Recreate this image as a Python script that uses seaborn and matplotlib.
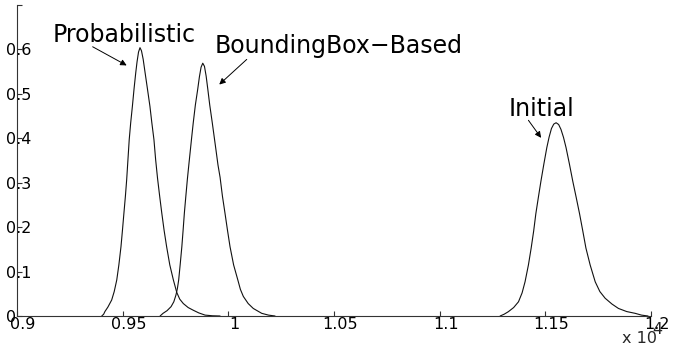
import matplotlib
matplotlib.use("Agg")
import matplotlib.pyplot as plt
import matplotlib.transforms as mtransforms
from matplotlib.ticker import FuncFormatter
import pandas as pd
import seaborn as sns


# curve points (x in raw units, shown as x 10^4)
prob_x = [9401, 9410, 9416, 9430, 9448, 9460, 9472, 9482, 9492, 9499, 9506,
          9513, 9519, 9525, 9531, 9538, 9546, 9554, 9562, 9568, 9575, 9582,
          9589, 9597, 9606, 9617, 9629, 9638, 9648, 9656, 9665, 9675, 9685,
          9696, 9708, 9723, 9740, 9756, 9770, 9787, 9810, 9834, 9860, 9890,
          9925, 9961]
prob_y = [0.0, 0.004, 0.010, 0.020, 0.036, 0.055, 0.081, 0.115, 0.156, 0.193,
          0.232, 0.270, 0.307, 0.352, 0.397, 0.435, 0.472, 0.512, 0.548,
          0.572, 0.594, 0.604, 0.597, 0.578, 0.548, 0.512, 0.472, 0.435,
          0.397, 0.352, 0.310, 0.270, 0.232, 0.193, 0.156, 0.115, 0.081,
          0.053, 0.038, 0.028, 0.019, 0.013, 0.007, 0.002, 0.0005, 0.0]

bbox_x = [9677, 9691, 9710, 9729, 9742, 9752, 9759, 9765, 9772, 9780, 9786,
          9792, 9799, 9806, 9813, 9820, 9827, 9834, 9844, 9855, 9863, 9871,
          9879, 9887, 9895, 9903, 9912, 9924, 9934, 9942, 9951, 9961, 9972,
          9984, 9996, 10008, 10025, 10045, 10057, 10071, 10094, 10118, 10158,
          10190, 10221]
bbox_y = [0.0, 0.006, 0.012, 0.021, 0.032, 0.047, 0.062, 0.081, 0.115, 0.156,
          0.193, 0.232, 0.270, 0.307, 0.340, 0.372, 0.404, 0.435, 0.475,
          0.510, 0.538, 0.560, 0.569, 0.562, 0.540, 0.510, 0.475, 0.435,
          0.400, 0.372, 0.340, 0.312, 0.270, 0.232, 0.193, 0.156, 0.115,
          0.081, 0.060, 0.044, 0.028, 0.017, 0.006, 0.002, 0.0]

init_x = [11286, 11305, 11325, 11350, 11373, 11390, 11404, 11420, 11433,
          11445, 11455, 11467, 11479, 11493, 11507, 11518, 11529, 11540,
          11551, 11563, 11574, 11586, 11598, 11614, 11630, 11646, 11662,
          11677, 11692, 11712, 11736, 11758, 11783, 11815, 11846, 11885,
          11925, 11955, 11986]
init_y = [0.0, 0.004, 0.0097, 0.019, 0.032, 0.052, 0.077, 0.115, 0.153, 0.192,
          0.230, 0.267, 0.303, 0.342, 0.379, 0.403, 0.422, 0.432, 0.435,
          0.431, 0.420, 0.402, 0.379, 0.342, 0.303, 0.267, 0.230, 0.192,
          0.153, 0.115, 0.077, 0.055, 0.040, 0.027, 0.017, 0.010, 0.006,
          0.002, 0.0]

x_ticks = [9000, 9500, 10000, 10500, 11000, 11500, 12000]
y_ticks = [0, 0.1, 0.2, 0.3, 0.4, 0.5, 0.6, 0.7]
y_tick_labels = ["0", "0.1", "0.2", "0.3", "0.4", "0.5", "0.6", ""]

# label text, text anchor (x, y) and arrow tail/head in data units
labels = ["Probabilistic", "BoundingBox\u2212Based", "Initial"]
label_pos = [(9509, 0.616), (10522, 0.593), (11482, 0.451)]
arrow_tail = [(9358, 0.606), (10087, 0.5775), (11420, 0.4405)]
arrow_head = [(9519, 0.564), (9957, 0.521), (11480, 0.401)]


def main() -> None:
    sns.set_theme(style="white")
    plt.rcParams["font.family"] = ["DejaVu Sans"]

    W, H = 674, 349
    fig = plt.figure(figsize=(W / 100, H / 100), dpi=100)
    ax = fig.add_axes([17 / W, 33 / H, 634 / W, 311 / H])

    curves = [(prob_x, prob_y), (bbox_x, bbox_y), (init_x, init_y)]
    for cx, cy in curves:
        df = pd.DataFrame({"x": cx, "y": cy})
        sns.lineplot(data=df, x="x", y="y", ax=ax, color="#111111",
                     linewidth=0.8, estimator=None)

    ax.set_xlim(9000, 12000)
    ax.set_ylim(0, 0.7)
    ax.set_xlabel("")
    ax.set_ylabel("")
    ax.set_xticks(x_ticks)
    ax.xaxis.set_major_formatter(FuncFormatter(lambda v, _: f"{v / 1e4:g}"))
    ax.set_yticks(y_ticks)
    ax.set_yticklabels(y_tick_labels)

    for side in ["top", "right"]:
        ax.spines[side].set_visible(False)
    for side in ["left", "bottom"]:
        ax.spines[side].set_color("#333333")
        ax.spines[side].set_linewidth(0.8)

    ax.tick_params(axis="both", direction="in", length=3.5, width=0.8,
                   color="#333333", labelsize=11.5, labelcolor="black")
    ax.tick_params(axis="x", pad=0.5, bottom=True)
    ax.tick_params(axis="y", pad=7.9, left=True)
    plt.setp(ax.get_yticklabels(), ha="left")

    shift = mtransforms.ScaledTranslation(6 / 100, 0, fig.dpi_scale_trans)
    for lab in ax.get_xticklabels():
        lab.set_transform(lab.get_transform() + shift)

    for text, pos, tail, head in zip(labels, label_pos, arrow_tail, arrow_head):
        ax.text(pos[0], pos[1], text, ha="center", va="baseline",
                fontsize=17, color="black")
        ax.annotate("", xy=head, xytext=tail,
                    arrowprops=dict(arrowstyle="-|>", color="black", lw=0.7,
                                    mutation_scale=9, shrinkA=0, shrinkB=0))

    fig.text(622 / W, 1 - 343 / H, "x 10", fontsize=11.5, ha="left",
             va="baseline")
    fig.text(652 / W, 1 - 334 / H, "4", fontsize=11.5, ha="left",
             va="baseline")

    fig.savefig("out.png", dpi=100)
    plt.close(fig)


if __name__ == "__main__":
    main()
